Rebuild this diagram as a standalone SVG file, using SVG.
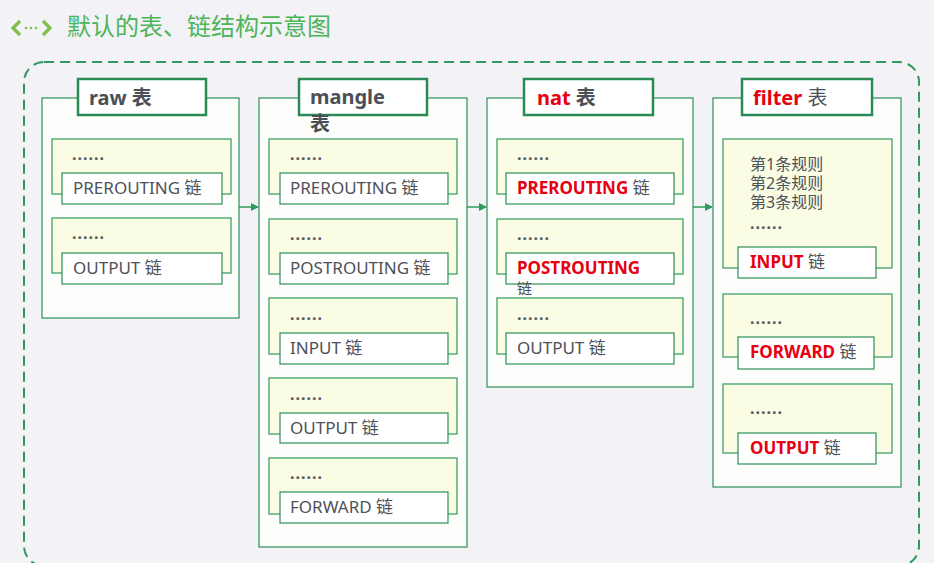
<svg xmlns="http://www.w3.org/2000/svg" width="934" height="563" viewBox="0 0 934 563">
<defs>
<style>
.bg{fill:#f3f2f6}
.frame{fill:none;stroke:#2e9a5c;stroke-width:2;stroke-dasharray:10 6}
.tbl{fill:#fdfefb;stroke:#2e8f58;stroke-width:1.2}
.ttl{fill:#ffffff;stroke:#2a8a55;stroke-width:2.5}
.ch{fill:#fafce4;stroke:#2e9a5c;stroke-width:1.2}
.lb{fill:#ffffff;stroke:#2e8f58;stroke-width:1.2}
text{font-family:"Noto Sans","Noto Sans CJK SC",sans-serif}
.tt{font-size:20px;font-weight:bold;fill:#4a4f58}
.t{font-size:17px;fill:#4d5159}
.r{fill:#e60012;font-weight:bold}
.dots{font-size:16px;font-weight:bold;fill:#555a62;letter-spacing:1px}
.n{font-weight:normal;fill:#4d5159}
.conn{stroke:#2e9a5c;stroke-width:1.5;fill:none;marker-end:url(#ah)}
</style>
<marker id="ah" markerWidth="8" markerHeight="8" refX="7" refY="4" orient="auto" markerUnits="userSpaceOnUse">
<path d="M0,0 L8,4 L0,8 Z" fill="#2e9a5c"/>
</marker>
</defs>
<rect class="bg" x="0" y="0" width="934" height="563"/>

<g id="title">
<polyline points="20,21 13,28 20,35" fill="none" stroke="#7cbf4a" stroke-width="3.2"/>
<circle cx="26" cy="28" r="1.3" fill="#7cbf4a"/>
<circle cx="31" cy="28" r="1.3" fill="#7cbf4a"/>
<circle cx="36" cy="28" r="1.3" fill="#7cbf4a"/>
<polyline points="43,21 50,28 43,35" fill="none" stroke="#7cbf4a" stroke-width="3.2"/>
<text x="67" y="35" style="font-family:'Noto Sans CJK SC',sans-serif;font-size:24px;fill:#4cb55a">默认的表、链结构示意图</text>
</g>

<rect class="frame" x="24" y="62" width="895" height="504" rx="20"/>

<g id="connectors">
<line class="conn" x1="239" y1="207" x2="258" y2="207"/>
<line class="conn" x1="467" y1="207" x2="486" y2="207"/>
<line class="conn" x1="693" y1="207" x2="712" y2="207"/>
</g>

<g id="raw">
<rect class="tbl" x="42" y="98" width="197" height="220"/>
<rect class="ttl" x="78" y="79" width="128" height="36"/>
<text class="tt" x="89" y="105">raw 表</text>
<g id="raw-prerouting">
<rect class="ch" x="52" y="139" width="179" height="55"/>
<text class="dots" x="72" y="160">......</text>
<rect class="lb" x="62" y="173" width="160" height="31"/>
<text class="t" x="73" y="194">PREROUTING 链</text>
</g>
<g id="raw-output">
<rect class="ch" x="52" y="218" width="179" height="55"/>
<text class="dots" x="72" y="239">......</text>
<rect class="lb" x="62" y="253" width="160" height="31"/>
<text class="t" x="73" y="274">OUTPUT 链</text>
</g>
</g>

<g id="mangle">
<rect class="tbl" x="259" y="98" width="208" height="449"/>
<rect class="ttl" x="299" y="79" width="128" height="36"/>
<text class="tt" x="310" y="104">mangle</text>
<text class="tt" x="310" y="131">表</text>
<g id="mangle-prerouting">
<rect class="ch" x="269" y="139" width="188" height="55"/>
<text class="dots" x="290" y="160">......</text>
<rect class="lb" x="280" y="173" width="168" height="31"/>
<text class="t" x="290" y="194">PREROUTING 链</text>
</g>
<g id="mangle-postrouting">
<rect class="ch" x="269" y="219" width="188" height="55"/>
<text class="dots" x="290" y="240">......</text>
<rect class="lb" x="280" y="253" width="168" height="31"/>
<text class="t" x="290" y="274">POSTROUTING 链</text>
</g>
<g id="mangle-input">
<rect class="ch" x="269" y="298" width="188" height="56"/>
<text class="dots" x="290" y="320">......</text>
<rect class="lb" x="280" y="333" width="168" height="31"/>
<text class="t" x="290" y="354">INPUT 链</text>
</g>
<g id="mangle-output">
<rect class="ch" x="269" y="378" width="188" height="56"/>
<text class="dots" x="290" y="400">......</text>
<rect class="lb" x="280" y="413" width="168" height="30"/>
<text class="t" x="290" y="434">OUTPUT 链</text>
</g>
<g id="mangle-forward">
<rect class="ch" x="269" y="458" width="188" height="56"/>
<text class="dots" x="290" y="479">......</text>
<rect class="lb" x="280" y="492" width="168" height="31"/>
<text class="t" x="290" y="513">FORWARD 链</text>
</g>
</g>

<g id="nat">
<rect class="tbl" x="487" y="98" width="206" height="289"/>
<rect class="ttl" x="524" y="79" width="129" height="36"/>
<text class="tt" x="537" y="105"><tspan fill="#e60012">nat</tspan> 表</text>
<g id="nat-prerouting">
<rect class="ch" x="497" y="139" width="186" height="55"/>
<text class="dots" x="517" y="160">......</text>
<rect class="lb" x="506" y="173" width="168" height="31"/>
<text class="t" x="517" y="194"><tspan class="r">PREROUTING</tspan> 链</text>
</g>
<g id="nat-postrouting">
<rect class="ch" x="497" y="219" width="186" height="55"/>
<text class="dots" x="517" y="240">......</text>
<rect class="lb" x="506" y="253" width="168" height="31"/>
<text class="t" x="517" y="274"><tspan class="r">POSTROUTING</tspan></text>
<text class="t" x="517" y="294" style="font-size:15px">链</text>
</g>
<g id="nat-output">
<rect class="ch" x="497" y="298" width="186" height="56"/>
<text class="dots" x="517" y="320">......</text>
<rect class="lb" x="506" y="333" width="168" height="31"/>
<text class="t" x="517" y="354">OUTPUT 链</text>
</g>
</g>

<g id="filter">
<rect class="tbl" x="713" y="98" width="188" height="389"/>
<rect class="ttl" x="742" y="79" width="130" height="36"/>
<text class="tt" x="753" y="105"><tspan fill="#e60012">filter</tspan> <tspan class="n">表</tspan></text>
<g id="filter-input">
<rect class="ch" x="723" y="139" width="169" height="129"/>
<text class="t" style="font-size:16px"><tspan x="750" y="170">第1条规则</tspan><tspan x="750" y="189">第2条规则</tspan><tspan x="750" y="208">第3条规则</tspan></text>
<text class="dots" x="750" y="229">......</text>
<rect class="lb" x="738" y="247" width="138" height="31"/>
<text class="t" x="750" y="268"><tspan class="r">INPUT</tspan> 链</text>
</g>
<g id="filter-forward">
<rect class="ch" x="723" y="294" width="169" height="63"/>
<text class="dots" x="750" y="324">......</text>
<rect class="lb" x="738" y="337" width="136" height="32"/>
<text class="t" x="750" y="358"><tspan class="r">FORWARD</tspan> 链</text>
</g>
<g id="filter-output">
<rect class="ch" x="723" y="384" width="169" height="69"/>
<text class="dots" x="750" y="414">......</text>
<rect class="lb" x="738" y="433" width="138" height="31"/>
<text class="t" x="750" y="454"><tspan class="r">OUTPUT</tspan> 链</text>
</g>
</g>
</svg>
